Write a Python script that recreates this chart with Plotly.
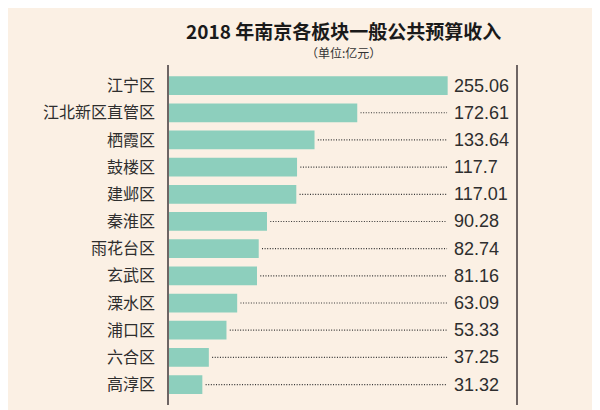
import plotly.graph_objects as go

categories = ["江宁区", "江北新区直管区", "栖霞区", "鼓楼区", "建邺区", "秦淮区",
              "雨花台区", "玄武区", "溧水区", "浦口区", "六合区", "高淳区"]
values = [255.06, 172.61, 133.64, 117.7, 117.01, 90.28, 82.74, 81.16, 63.09, 53.33, 37.25, 31.32]

title_text = "2018 年南京各板块一般公共预算收入"
subtitle_text = "（单位:亿元）"

BG = "#FBF0E4"
BAR = "#8DCFBD"
LINE = "#6E6564"
TXT = "#2E2E2E"

X_MAX = 318.3
LABEL_X = 259.0
DOT_END = 254.5

# page body adds an 8px offset; target screen-pixel layout
OFF = 8
W, H = 600, 410
SL, SR, ST, SB = 168, 517, 72, 401          # plot area in screen pixels
L, T = SL - OFF, ST - OFF
R, B = W - (SR - OFF), H - (SB - OFF)

def xp(sx):
    return (sx - SL) / (SR - SL)

def yp(sy):
    return (SB - sy) / (SB - ST)

fig = go.Figure()
fig.add_trace(go.Bar(
    x=values, y=categories, orientation="h",
    marker=dict(color=BAR, line=dict(width=0)),
    width=0.69, hoverinfo="x+y",
))

dx, dy = [], []
for c, v in zip(categories, values):
    if v + 3 < DOT_END:
        dx += [v + 3, DOT_END, None]
        dy += [c, c, None]
fig.add_trace(go.Scatter(
    x=dx, y=dy, mode="lines",
    line=dict(color="#333333", width=1.2, dash="1px,1.6px"),
    hoverinfo="skip",
))

for c, v in zip(categories, values):
    fig.add_annotation(x=LABEL_X, y=c, xref="x", yref="y", text=str(v),
                       showarrow=False, xanchor="left", yanchor="middle",
                       font=dict(family="Liberation Sans, Arial, sans-serif", size=18, color=TXT))

fig.add_annotation(x=xp(343), y=yp(30), xref="paper", yref="paper", text=title_text,
                   showarrow=False, xanchor="center", yanchor="middle",
                   font=dict(family="Noto Sans CJK SC", size=19, color="#1A1A1A", weight="bold"))
fig.add_annotation(x=xp(343), y=yp(53), xref="paper", yref="paper", text=subtitle_text,
                   showarrow=False, xanchor="center", yanchor="middle",
                   font=dict(family="Noto Sans CJK SC", size=12, color="#333"))

for xv in (0, 1):
    fig.add_shape(type="line", xref="paper", yref="paper",
                  x0=xv, x1=xv, y0=yp(405), y1=yp(65),
                  line=dict(color=LINE, width=2))

fig.update_layout(
    width=W, height=H,
    margin=dict(l=L, r=R, t=T, b=B, autoexpand=False),
    paper_bgcolor=BG, plot_bgcolor=BG,
    showlegend=False,
    xaxis=dict(range=[0, X_MAX], visible=False, fixedrange=True),
    yaxis=dict(autorange="reversed", automargin=False, showline=False, showgrid=False,
               zeroline=False, ticks="", ticklabelstandoff=12,
               tickfont=dict(family="Noto Sans CJK SC", size=16, color=TXT), fixedrange=True),
)

fig.write_html("out.html")
